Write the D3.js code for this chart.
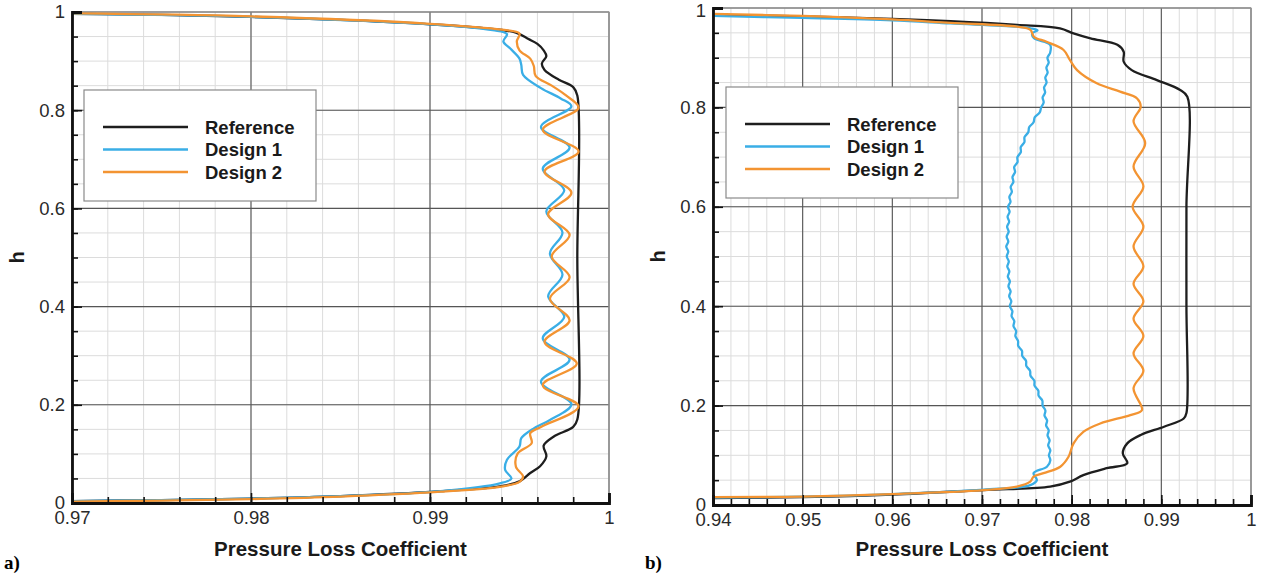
<!DOCTYPE html>
<html>
<head>
<meta charset="utf-8">
<script src="https://cdn.jsdelivr.net/npm/d3@7"></script>
<style>
  body { margin: 0; background: #fff; }
  svg { display: block; font-family: "Liberation Sans", Arial, Helvetica, sans-serif; }
</style>
</head>
<body>
<div id="chart"></div>
<script>
// series as [pressure loss coefficient, h]
const seriesNames = ["Reference", "Design 1", "Design 2"];

const referenceA = [
  [0.9700, 0.996], [0.9750, 0.994], [0.9800, 0.990], [0.9850, 0.984], [0.9900, 0.975],
  [0.9930, 0.967], [0.9948, 0.958], [0.9955, 0.945], [0.9960, 0.935], [0.99635, 0.922],
  [0.9965, 0.910], [0.99625, 0.895], [0.9964, 0.882], [0.9972, 0.862], [0.9980, 0.847],
  [0.99823, 0.830], [0.99823, 0.500], [0.99823, 0.170], [0.9980, 0.155], [0.9969, 0.135],
  [0.99635, 0.117], [0.9965, 0.095], [0.99615, 0.075], [0.9956, 0.061], [0.9950, 0.044],
  [0.9939, 0.034], [0.9906, 0.024], [0.9850, 0.014], [0.9800, 0.009], [0.9750, 0.006], [0.9700, 0.004]
];
const design1A = [
  [0.9700, 0.996], [0.9800, 0.990], [0.9900, 0.975], [0.9935, 0.963], [0.9943, 0.955],
  [0.9941, 0.940], [0.9945, 0.925], [0.9950, 0.905], [0.9951, 0.892], [0.9952, 0.872],
  [0.9962, 0.845], [0.9973, 0.824], [0.9979, 0.808],
  [0.9962, 0.766], [0.9978, 0.724], [0.9963, 0.681], [0.9975, 0.637], [0.9965, 0.594],
  [0.9974, 0.551], [0.9967, 0.508], [0.9974, 0.465], [0.9966, 0.421], [0.9975, 0.379],
  [0.9963, 0.335], [0.9978, 0.292], [0.9962, 0.247], [0.9979, 0.201],
  [0.9967, 0.169], [0.9958, 0.152], [0.9951, 0.132], [0.9950, 0.115], [0.9943, 0.088],
  [0.9942, 0.067], [0.99455, 0.050], [0.9939, 0.040], [0.9906, 0.024], [0.9850, 0.014],
  [0.9800, 0.009], [0.9750, 0.006], [0.9700, 0.004]
];
const design2A = [
  [0.9700, 0.997], [0.9800, 0.991], [0.9900, 0.976], [0.9940, 0.964], [0.9950, 0.956],
  [0.99485, 0.940], [0.9950, 0.922], [0.9956, 0.905], [0.9958, 0.890], [0.9959, 0.870],
  [0.9968, 0.850], [0.9976, 0.830], [0.9983, 0.805],
  [0.9963, 0.760], [0.9983, 0.716], [0.9964, 0.675], [0.9979, 0.632], [0.9966, 0.588],
  [0.9978, 0.546], [0.9968, 0.502], [0.9978, 0.460], [0.9967, 0.416], [0.9978, 0.372],
  [0.9964, 0.328], [0.9982, 0.284], [0.9963, 0.240], [0.9983, 0.197],
  [0.9962, 0.155], [0.9956, 0.142], [0.99568, 0.122], [0.9949, 0.101], [0.9948, 0.074],
  [0.9952, 0.054], [0.9950, 0.043], [0.9939, 0.033], [0.9906, 0.023], [0.9850, 0.013],
  [0.9800, 0.008], [0.9750, 0.005], [0.9700, 0.003]
];

const referenceB = [
  [0.9400, 0.986], [0.9500, 0.983], [0.9600, 0.978], [0.9665, 0.9735], [0.9739, 0.966],
  [0.9787, 0.959], [0.9802, 0.949], [0.9821, 0.939], [0.9851, 0.926], [0.9858, 0.912],
  [0.9858, 0.892], [0.9867, 0.875], [0.9895, 0.855], [0.9921, 0.835], [0.9929, 0.8215],
  [0.9928, 0.600], [0.9928, 0.400], [0.9928, 0.185], [0.9925, 0.174], [0.9903, 0.1575],
  [0.9877, 0.141], [0.9862, 0.124], [0.9857, 0.104], [0.9862, 0.084], [0.9839, 0.074],
  [0.9813, 0.060], [0.9798, 0.047], [0.9776, 0.037], [0.9702, 0.030], [0.9600, 0.021],
  [0.9500, 0.016], [0.9400, 0.014]
];
const design1B = [
  [0.9400, 0.984], [0.9500, 0.980], [0.9600, 0.975], [0.9665, 0.969], [0.9739, 0.9624],
  [0.9754, 0.959], [0.9762, 0.955], [0.9756, 0.949], [0.9758, 0.939], [0.9776, 0.926],
  [0.9776, 0.91], [0.9773, 0.90], [0.97744, 0.89], [0.97718, 0.88], [0.97732, 0.87],
  [0.97706, 0.86], [0.9772, 0.85], [0.97692, 0.84], [0.97704, 0.83], [0.97676, 0.82],
  [0.97688, 0.81], [0.9766, 0.80], [0.97644, 0.79], [0.97588, 0.78], [0.97575, 0.77],
  [0.97526, 0.76], [0.97516, 0.75], [0.97474, 0.74], [0.97473, 0.73], [0.97432, 0.72],
  [0.97433, 0.71], [0.97395, 0.70], [0.97396, 0.69], [0.97359, 0.68], [0.97369, 0.67],
  [0.9734, 0.66], [0.9735, 0.65], [0.9732, 0.64], [0.97333, 0.63], [0.97305, 0.62],
  [0.97318, 0.61], [0.9729, 0.60], [0.97308, 0.59], [0.97285, 0.58], [0.97303, 0.57],
  [0.9728, 0.56], [0.97298, 0.55], [0.97275, 0.54], [0.97293, 0.53], [0.9727, 0.52],
  [0.97293, 0.51], [0.97276, 0.50], [0.97299, 0.49], [0.97282, 0.48], [0.97305, 0.47],
  [0.97288, 0.46], [0.97311, 0.45], [0.97295, 0.44], [0.97319, 0.43], [0.97303, 0.42],
  [0.97327, 0.41], [0.9731, 0.40], [0.97339, 0.39], [0.9733, 0.38], [0.9736, 0.37],
  [0.97351, 0.36], [0.97381, 0.35], [0.97372, 0.34], [0.97402, 0.33], [0.97404, 0.32],
  [0.97446, 0.31], [0.97449, 0.30], [0.97491, 0.29], [0.97494, 0.28], [0.97536, 0.27],
  [0.97541, 0.26], [0.97584, 0.25], [0.97586, 0.24], [0.97628, 0.23], [0.97631, 0.22],
  [0.97673, 0.21], [0.97676, 0.20], [0.97707, 0.19], [0.97697, 0.18], [0.97726, 0.17],
  [0.97715, 0.16], [0.97744, 0.15], [0.97731, 0.14], [0.97754, 0.13], [0.97738, 0.12],
  [0.97762, 0.11], [0.97746, 0.10], [0.97762, 0.09],
  [0.97724, 0.077], [0.97575, 0.064], [0.97612, 0.050], [0.97538, 0.040], [0.9702, 0.031],
  [0.9600, 0.022], [0.9500, 0.017], [0.9400, 0.015]
];
const design2B = [
  [0.9400, 0.988], [0.9500, 0.984], [0.9600, 0.977], [0.9665, 0.970], [0.9739, 0.9624],
  [0.9754, 0.956], [0.9758, 0.942], [0.9772, 0.932], [0.9791, 0.9155], [0.9798, 0.8954],
  [0.9806, 0.875], [0.9828, 0.8485], [0.9854, 0.8316], [0.9873, 0.818], [0.9877, 0.801],
  [0.9869, 0.772], [0.9882, 0.728], [0.9869, 0.681], [0.9880, 0.641], [0.9868, 0.600],
  [0.9880, 0.560], [0.9869, 0.520], [0.9880, 0.480], [0.9869, 0.445], [0.9880, 0.410],
  [0.9869, 0.375], [0.9880, 0.340], [0.9869, 0.305], [0.9880, 0.270], [0.9869, 0.235],
  [0.98784, 0.191], [0.98654, 0.181], [0.98319, 0.164], [0.98133, 0.1475], [0.98021, 0.124],
  [0.97965, 0.097], [0.97873, 0.077], [0.97686, 0.064], [0.97575, 0.057], [0.97538, 0.047],
  [0.97389, 0.037], [0.97017, 0.030], [0.9600, 0.022], [0.9500, 0.017], [0.9400, 0.016]
];

const xTicksA = [0.97, 0.98, 0.99, 1];
const xTicksB = [0.94, 0.95, 0.96, 0.97, 0.98, 0.99, 1];
const yTicks = [0, 0.2, 0.4, 0.6, 0.8, 1];

const colors = ["#1e1e1e", "#3aaee6", "#f39432"];

const width = 1267, height = 574;
const svg = d3.select("#chart").append("svg")
  .attr("width", width)
  .attr("height", height);

const fmt = d => String(+d.toFixed(4));

function panel(opt) {
  const x = d3.scaleLinear().domain(opt.xDomain).range([opt.left, opt.right]);
  const y = d3.scaleLinear().domain([0, 1]).range([opt.bottom, opt.top]);
  const g = svg.append("g");

  // minor grid
  const nx = Math.round((opt.xDomain[1] - opt.xDomain[0]) / 0.002);
  const xMinor = d3.range(0, nx + 1).map(i => opt.xDomain[0] + i * 0.002);
  const yMinor = d3.range(0, 21).map(i => i * 0.05);

  g.append("g").selectAll("line").data(xMinor).join("line")
    .attr("x1", d => x(d)).attr("x2", d => x(d))
    .attr("y1", opt.top).attr("y2", opt.bottom)
    .attr("stroke", "#dcdcdc").attr("stroke-width", 1);
  g.append("g").selectAll("line").data(yMinor).join("line")
    .attr("x1", opt.left).attr("x2", opt.right)
    .attr("y1", d => y(d)).attr("y2", d => y(d))
    .attr("stroke", "#dcdcdc").attr("stroke-width", 1);

  // major grid
  g.append("g").selectAll("line").data(opt.xTicks).join("line")
    .attr("x1", d => x(d)).attr("x2", d => x(d))
    .attr("y1", opt.top).attr("y2", opt.bottom)
    .attr("stroke", "#555").attr("stroke-width", 1.1);
  g.append("g").selectAll("line").data(yTicks).join("line")
    .attr("x1", opt.left).attr("x2", opt.right)
    .attr("y1", d => y(d)).attr("y2", d => y(d))
    .attr("stroke", "#555").attr("stroke-width", 1.1);

  // top and right frame
  g.append("path")
    .attr("d", `M${opt.left},${opt.top}H${opt.right}V${opt.bottom}`)
    .attr("fill", "none").attr("stroke", "#9a9a9a").attr("stroke-width", 1.2);

  // curves
  const line = d3.line()
    .x(d => x(d[0]))
    .y(d => y(d[1]))
    .curve(d3.curveCatmullRom.alpha(0.5));

  g.append("g").selectAll("path").data(opt.series).join("path")
    .attr("d", line)
    .attr("fill", "none")
    .attr("stroke", (d, i) => colors[i])
    .attr("stroke-width", 2.3)
    .attr("stroke-linejoin", "round");

  // axes with inward ticks
  const xAxisMinor = d3.axisBottom(x).tickValues(xMinor).tickSize(-6).tickFormat("");
  const yAxisMinor = d3.axisLeft(y).tickValues(yMinor).tickSize(-6).tickFormat("");
  g.append("g").attr("transform", `translate(0,${opt.bottom})`).call(xAxisMinor)
    .call(a => a.select(".domain").remove());
  g.append("g").attr("transform", `translate(${opt.left},0)`).call(yAxisMinor)
    .call(a => a.select(".domain").remove());

  const xAxis = g.append("g").attr("transform", `translate(0,${opt.bottom})`)
    .call(d3.axisBottom(x).tickValues(opt.xTicks).tickSize(-10).tickPadding(8).tickFormat(fmt));
  const yAxis = g.append("g").attr("transform", `translate(${opt.left},0)`)
    .call(d3.axisLeft(y).tickValues(yTicks).tickSize(-10).tickPadding(7).tickFormat(fmt));

  g.selectAll(".tick line").attr("stroke", "#111").attr("stroke-width", 1.6);
  [xAxis, yAxis].forEach(a => {
    a.select(".domain").attr("stroke", "#111").attr("stroke-width", 2.8);
    a.selectAll("text").attr("fill", "#2a2a2a").style("font-size", "18.5px");
  });
  // keep the top "1" inside the page
  yAxis.selectAll(".tick text").filter(d => d === 1)
    .attr("y", Math.max(0, 11 - opt.top));

  // axis titles
  g.append("text")
    .attr("x", (opt.left + opt.right) / 2)
    .attr("y", 556)
    .attr("text-anchor", "middle")
    .style("font-size", "20.5px").style("font-weight", "bold").attr("fill", "#1a1a1a")
    .text("Pressure Loss Coefficient");

  g.append("text")
    .attr("transform", `translate(${opt.left - 48},${(opt.top + opt.bottom) / 2}) rotate(-90)`)
    .attr("text-anchor", "middle")
    .style("font-size", "20px").style("font-weight", "bold").attr("fill", "#1a1a1a")
    .text("h");

  g.append("text")
    .attr("x", opt.left - 68)
    .attr("y", 569)
    .style("font-family", "'Liberation Serif', 'Times New Roman', serif")
    .style("font-size", "19px").style("font-weight", "bold")
    .text(opt.letter);

  // legend
  const lg = g.append("g").attr("transform", `translate(${opt.legend[0]},${opt.legend[1]})`);
  lg.append("rect")
    .attr("width", 232).attr("height", 111)
    .attr("fill", "#fff").attr("stroke", "#8a8a8a").attr("stroke-width", 1.2);
  seriesNames.forEach((name, i) => {
    const row = lg.append("g").attr("transform", `translate(0,${37 + i * 22.5})`);
    row.append("line")
      .attr("x1", 19).attr("x2", 104)
      .attr("stroke", colors[i]).attr("stroke-width", 2.6);
    row.append("text")
      .attr("x", 121).attr("y", 6.5)
      .style("font-size", "18.5px").style("font-weight", "bold").attr("fill", "#1a1a1a")
      .text(name);
  });
}

panel({
  xDomain: [0.97, 1], xTicks: xTicksA,
  left: 72, right: 609, top: 12, bottom: 503,
  series: [referenceA, design1A, design2A],
  legend: [84, 90], letter: "a)"
});

panel({
  xDomain: [0.94, 1], xTicks: xTicksB,
  left: 713, right: 1251, top: 8, bottom: 505,
  series: [referenceB, design1B, design2B],
  legend: [726, 87], letter: "b)"
});
</script>
</body>
</html>
